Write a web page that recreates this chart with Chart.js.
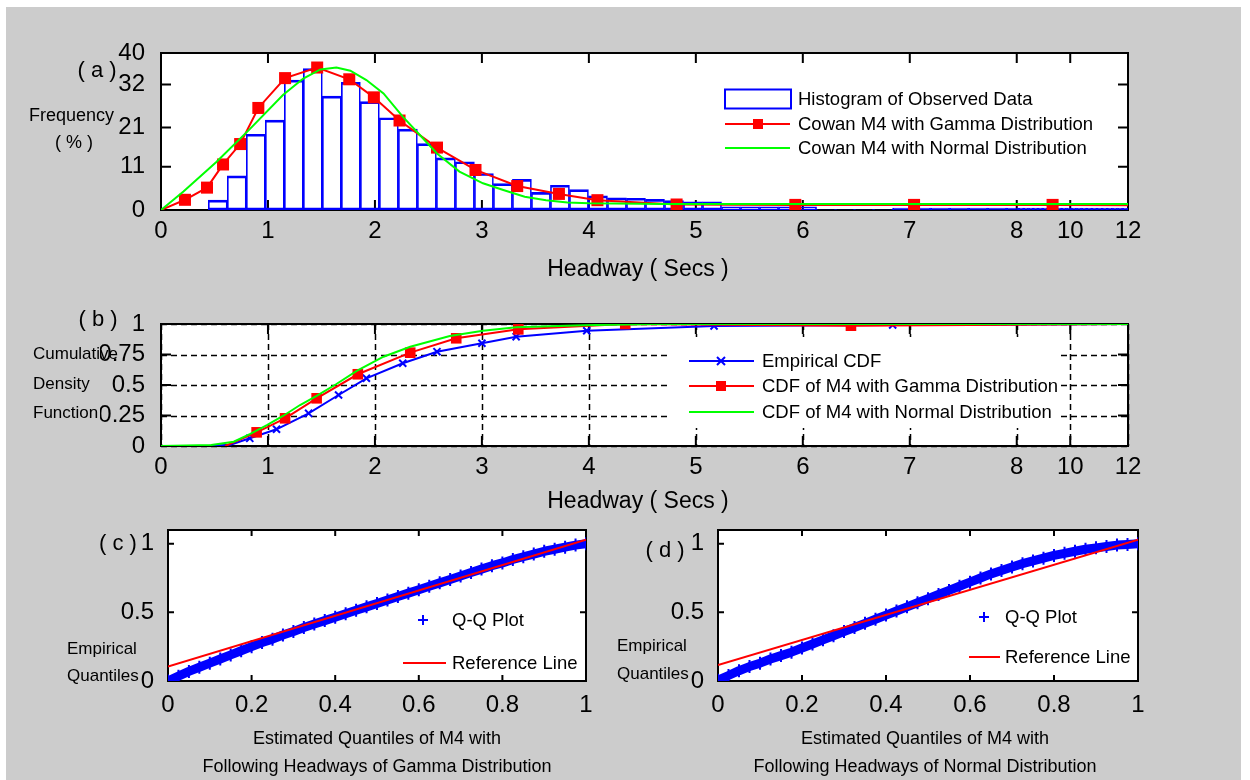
<!DOCTYPE html>
<html>
<head>
<meta charset="utf-8">
<script src="https://cdn.jsdelivr.net/npm/chart.js@4.4.1/dist/chart.umd.min.js"></script>
<style>
  html, body { margin: 0; padding: 0; background: #fff; }
  #page { position: relative; width: 1250px; height: 780px; overflow: hidden; background: #fff; }
  #bg { position: absolute; left: 6px; top: 7px; width: 1235px; height: 773px; background: #cccccc; }
  canvas { position: absolute; left: 0; top: 0; }
  .lbl { position: absolute; font-family: "Liberation Sans", Arial, sans-serif; color: #000; white-space: nowrap; line-height: 1; }
  .c { transform: translate(-50%, -50%); }
  .l { transform: translateY(-50%); }
</style>
</head>
<body>
<div id="page">
  <div id="bg"></div>
  <canvas id="chartA" width="1250" height="780"></canvas>
  <canvas id="chartB" width="1250" height="780"></canvas>
  <canvas id="chartC" width="1250" height="780"></canvas>
  <canvas id="chartD" width="1250" height="780"></canvas>

  <div class="lbl c" style="left:97px;top:70px;font-size:22px">( a )</div>
  <div class="lbl l" style="left:29px;top:115px;font-size:18px">Frequency</div>
  <div class="lbl c" style="left:74px;top:142px;font-size:18px">( % )</div>
  <div class="lbl c" style="left:638px;top:268px;font-size:23px">Headway ( Secs )</div>

  <div class="lbl c" style="left:98px;top:319px;font-size:22px">( b )</div>
  <div class="lbl l" style="left:33px;top:353px;font-size:17px">Cumulative</div>
  <div class="lbl l" style="left:33px;top:383px;font-size:17px">Density</div>
  <div class="lbl l" style="left:33px;top:412px;font-size:17px">Function</div>
  <div class="lbl c" style="left:638px;top:500px;font-size:23px">Headway ( Secs )</div>

  <div class="lbl c" style="left:118px;top:543px;font-size:22px">( c )</div>
  <div class="lbl l" style="left:67px;top:648px;font-size:17px">Empirical</div>
  <div class="lbl l" style="left:67px;top:675px;font-size:17px">Quantiles</div>
  <div class="lbl c" style="left:377px;top:738px;font-size:18px">Estimated Quantiles of M4 with</div>
  <div class="lbl c" style="left:377px;top:766px;font-size:18px">Following Headways of Gamma Distribution</div>

  <div class="lbl c" style="left:665px;top:550px;font-size:22px">( d )</div>
  <div class="lbl l" style="left:617px;top:645px;font-size:17px">Empirical</div>
  <div class="lbl l" style="left:617px;top:673px;font-size:17px">Quantiles</div>
  <div class="lbl c" style="left:925px;top:738px;font-size:18px">Estimated Quantiles of M4 with</div>
  <div class="lbl c" style="left:925px;top:766px;font-size:18px">Following Headways of Normal Distribution</div>
</div>

<script>
// ---- headway axis (a) and (b): 0..8 evenly spaced, then 10 and 12 squeezed in ----
const xTickVals = [0, 1, 2, 3, 4, 5, 6, 7, 8, 10, 12];

// ---- (a) histogram, bins of 0.178 s starting at 0.44 s ----
const binStart = 0.442;
const binWidth = 0.1777;
const histFreq = [
  2.5, 8.7, 19.3, 22.9, 33.1, 36.0, 29.0, 32.5, 27.6, 23.5,
  20.6, 16.9, 13.3, 12.3, 9.3, 6.7, 7.8, 4.5, 6.3, 5.2,
  3.6, 3.1, 3.0, 2.7, 2.4, 2.1, 2.1, 0.8, 0.8, 0.8,
  0.8, 0.8, 0.1, 0.1, 0.1, 0.1, 0.5, 0.5, 0.5, 0.5,
  0.5, 0.5, 0.5, 0.5, 0.5, 0.5, 0.5, 0.5, 0.5, 0.5,
  0.5, 0.5, 0.5, 0.5, 0.5, 0.5, 0.5, 0.5, 0.5, 0.5,
  0.5, 0.5, 0.5, 0.5, 0.5
];

// Cowan M4 with Gamma distribution (pdf, %)
const gammaX = [0, 0.224, 0.43, 0.58, 0.74, 0.91, 1.16, 1.46, 1.76, 1.99, 2.23, 2.58, 2.94, 3.33, 3.72, 4.08, 4.82, 5.93, 7.04, 9.34, 12];
const gammaY = [0, 2.6, 5.7, 11.6, 16.8, 26.0, 33.6, 36.3, 33.3, 28.7, 22.8, 15.9, 10.2, 6.1, 4.1, 2.5, 1.4, 1.3, 1.3, 1.3, 1.2];

// Cowan M4 with Normal distribution (pdf, %)
const normX = [0, 0.21, 0.52, 0.83, 1.14, 1.33, 1.49, 1.64, 1.77, 1.92, 2.08, 2.26, 2.42, 2.58, 2.79, 3.01, 3.2, 3.4, 3.6, 3.8, 4.0, 4.7, 12];
const normY = [0, 4.7, 12.3, 20.6, 29.3, 33.5, 35.8, 36.3, 35.5, 33.1, 29.7, 23.8, 19.1, 14.4, 9.8, 6.8, 5.1, 3.4, 2.5, 1.9, 1.7, 1.5, 1.5];

// ---- (b) CDFs ----
const empCdfX = [0.44, 0.65, 0.83, 1.08, 1.38, 1.66, 1.92, 2.26, 2.58, 3.0, 3.32, 3.98, 5.17, 6.84, 12];
const empCdfY = [0, 0.01, 0.063, 0.137, 0.268, 0.418, 0.555, 0.678, 0.773, 0.842, 0.896, 0.945, 0.984, 0.992, 1.0];
const gamCdfX = [0.6, 0.894, 1.16, 1.455, 1.84, 2.33, 2.76, 3.34, 4.34, 6.45, 12];
const gamCdfY = [0, 0.112, 0.227, 0.391, 0.588, 0.765, 0.883, 0.956, 1.0, 0.986, 1.0];
const norCdfX = [0, 0.47, 0.68, 0.83, 0.99, 1.14, 1.30, 1.455, 1.64, 1.83, 2.08, 2.33, 2.70, 3.01, 3.32, 3.95, 4.6, 12];
const norCdfY = [0, 0.008, 0.035, 0.098, 0.172, 0.246, 0.336, 0.41, 0.508, 0.615, 0.732, 0.814, 0.902, 0.945, 0.973, 0.99, 1.0, 1.0];

// ---- (c) and (d) Q-Q plots ----
const qqX = [0, 0.025, 0.05, 0.075, 0.1, 0.125, 0.15, 0.175, 0.2, 0.225, 0.25, 0.275, 0.3, 0.325, 0.35, 0.375, 0.4, 0.425, 0.45, 0.475,
  0.5, 0.525, 0.55, 0.575, 0.6, 0.625, 0.65, 0.675, 0.7, 0.725, 0.75, 0.775, 0.8, 0.825, 0.85, 0.875, 0.9, 0.925, 0.95, 0.975, 1.0];
const qqGammaY = [0, 0.035, 0.07, 0.1, 0.13, 0.16, 0.19, 0.22, 0.25, 0.28, 0.305, 0.335, 0.36, 0.39, 0.415, 0.44, 0.465, 0.49, 0.515, 0.54,
  0.565, 0.59, 0.615, 0.64, 0.665, 0.69, 0.715, 0.74, 0.765, 0.79, 0.815, 0.84, 0.86, 0.885, 0.905, 0.925, 0.945, 0.96, 0.975, 0.99, 1.0];
const qqNormalY = [0.005, 0.04, 0.075, 0.105, 0.13, 0.16, 0.185, 0.21, 0.24, 0.27, 0.3, 0.33, 0.36, 0.39, 0.42, 0.45, 0.48, 0.51, 0.54, 0.57,
  0.6, 0.63, 0.66, 0.69, 0.72, 0.75, 0.78, 0.805, 0.83, 0.855, 0.875, 0.895, 0.915, 0.93, 0.945, 0.96, 0.97, 0.98, 0.99, 0.995, 1.0];
const refX = [0, 1];
const refGammaY = [0.105, 1.03];
const refNormalY = [0.117, 1.03];

const FONT = 'Liberation Sans';
const BLUE = '#0000ff', RED = '#ff0000', GREEN = '#00ff00';

function xPos(h) {
  if (h <= 8) return h;
  if (h <= 10) return 8 + (h - 8) * 0.25;
  return 8.5 + (h - 10) * 0.27;
}
function pts(xs, ys, fx) {
  return xs.map((v, i) => ({ x: fx ? fx(v) : v, y: ys[i] }));
}

// small marker painter for the hand-placed legends
function mark(ctx, style, x, y, r, color) {
  ctx.save();
  ctx.strokeStyle = color; ctx.fillStyle = color; ctx.lineWidth = 2;
  ctx.beginPath();
  if (style === 'rect') {
    ctx.fillRect(x - r, y - r, 2 * r, 2 * r);
  } else if (style === 'cross') {
    ctx.moveTo(x - r, y); ctx.lineTo(x + r, y); ctx.moveTo(x, y - r); ctx.lineTo(x, y + r); ctx.stroke();
  } else if (style === 'crossRot') {
    ctx.moveTo(x - r, y - r); ctx.lineTo(x + r, y + r); ctx.moveTo(x - r, y + r); ctx.lineTo(x + r, y - r); ctx.stroke();
  }
  ctx.restore();
}

// white axes area, box, inward ticks, optional dashed grid (matlab look)
const boxPlugin = {
  id: 'matBox',
  beforeDraw(chart) {
    const { ctx, chartArea: a } = chart;
    ctx.save();
    ctx.fillStyle = '#fff';
    ctx.fillRect(a.left, a.top, a.width, a.height);
    ctx.restore();
  },
  beforeDatasetsDraw(chart, args, o) {
    const { ctx, chartArea: a, scales: { x, y } } = chart;
    const len = o.tick || 8;
    ctx.save();
    if (o.grid) {
      ctx.strokeStyle = '#000'; ctx.lineWidth = 1.5; ctx.setLineDash([6, 4]);
      ctx.beginPath();
      x.ticks.forEach(t => { const p = Math.round(x.getPixelForValue(t.value)) + 0.5; ctx.moveTo(p, a.top); ctx.lineTo(p, a.bottom); });
      y.ticks.forEach(t => { const p = Math.round(y.getPixelForValue(t.value)) + 0.5; ctx.moveTo(a.left, p); ctx.lineTo(a.right, p); });
      ctx.stroke();
      ctx.setLineDash([]);
    }
    ctx.strokeStyle = '#000'; ctx.lineWidth = 2;
    ctx.beginPath();
    x.ticks.forEach(t => {
      const p = x.getPixelForValue(t.value);
      ctx.moveTo(p, a.bottom); ctx.lineTo(p, a.bottom - len);
      ctx.moveTo(p, a.top); ctx.lineTo(p, a.top + len);
    });
    y.ticks.forEach(t => {
      const p = y.getPixelForValue(t.value);
      ctx.moveTo(a.left, p); ctx.lineTo(a.left + len, p);
      ctx.moveTo(a.right, p); ctx.lineTo(a.right - len, p);
    });
    ctx.stroke();
    ctx.strokeRect(a.left, a.top, a.width, a.height);
    ctx.restore();
  }
};

const legendPlugin = {
  id: 'boxLegend',
  afterDatasetsDraw(chart, args, o) {
    if (!o.items) return;
    const ctx = chart.ctx;
    ctx.save();
    if (o.bg) {
      ctx.fillStyle = '#fff';
      ctx.fillRect(o.bg[0], o.bg[1], o.bg[2] - o.bg[0], o.bg[3] - o.bg[1]);
    }
    o.items.forEach(it => {
      if (it.box) {
        ctx.strokeStyle = it.color; ctx.lineWidth = 2;
        ctx.strokeRect(it.x0, it.y - 9.5, it.x1 - it.x0, 19);
      }
      if (it.line) {
        ctx.strokeStyle = it.color; ctx.lineWidth = 2;
        ctx.beginPath(); ctx.moveTo(it.x0, it.y); ctx.lineTo(it.x1, it.y); ctx.stroke();
      }
      if (it.marker) mark(ctx, it.marker, it.mx, it.y, it.mr || 5, it.color);
      ctx.fillStyle = '#000';
      ctx.font = (o.size || 18) + 'px "' + FONT + '"';
      ctx.textBaseline = 'middle';
      ctx.fillText(it.text, it.tx, it.y + 1);
    });
    ctx.restore();
  }
};

Chart.register(boxPlugin, legendPlugin);
Chart.defaults.animation = false;
Chart.defaults.font.family = FONT;
Chart.defaults.color = '#000';

function tickFont(size) { return { family: FONT, size: size }; }

function headwayX() {
  return {
    type: 'linear', min: 0, max: xPos(12), offset: false,
    grid: { display: false }, border: { display: false },
    afterBuildTicks: s => { s.ticks = xTickVals.map(v => ({ value: xPos(v) })); },
    afterFit: s => { s.height = 40; },
    ticks: { font: tickFont(24), padding: -1, maxRotation: 0, autoSkip: false, callback: (v, i) => String(xTickVals[i]) }
  };
}
function valueY(min, max, vals, labels, width, pad) {
  return {
    type: 'linear', min: min, max: max,
    grid: { display: false }, border: { display: false },
    afterBuildTicks: s => { s.ticks = vals.map(v => ({ value: v })); },
    afterFit: s => { s.width = width; },
    ticks: { font: tickFont(24), padding: pad, autoSkip: false, callback: (v, i) => labels[i] }
  };
}
const baseOpts = {
  responsive: false,
  events: [],
  plugins: { legend: { display: false }, tooltip: { enabled: false } }
};

// ---------- (a) ----------
const histPts = histFreq.map((f, i) => ({ x: xPos(binStart + (i + 0.5) * binWidth), y: f }));
new Chart(document.getElementById('chartA'), {
  type: 'bar',
  data: {
    datasets: [
      {
        type: 'bar', data: histPts, order: 3,
        backgroundColor: 'rgba(255,255,255,0)', borderColor: BLUE,
        borderWidth: { top: 2, bottom: 2, left: 1, right: 1 }, borderSkipped: false,
        barThickness: 'flex', barPercentage: 1, categoryPercentage: 1
      },
      {
        type: 'line', data: pts(gammaX, gammaY, xPos), order: 2,
        borderColor: RED, borderWidth: 2, backgroundColor: RED,
        pointStyle: 'rect', pointRadius: gammaX.map((v, i) => (i === 0 || i === gammaX.length - 1) ? 0 : 8.5),
        pointBorderWidth: 0
      },
      {
        type: 'line', data: pts(normX, normY, xPos), order: 1,
        borderColor: GREEN, borderWidth: 2, pointRadius: 0
      }
    ]
  },
  options: Object.assign({}, baseOpts, {
    layout: { padding: { left: 100, top: 53, right: 122, bottom: 530 } },
    scales: {
      x: headwayX(),
      y: valueY(0, 40, [0, 11, 21, 32, 40], ['0', '11', '21', '32', '40'], 61, 8)
    },
    plugins: Object.assign({}, baseOpts.plugins, {
      matBox: { tick: 10 },
      boxLegend: {
        bg: [716, 80, 1095, 162], size: 18.5,
        items: [
          { box: true, color: BLUE, x0: 725, x1: 791, y: 99, text: 'Histogram of Observed Data', tx: 798 },
          { line: true, color: RED, x0: 725, x1: 790, y: 124, marker: 'rect', mx: 758, mr: 5, text: 'Cowan M4 with Gamma Distribution', tx: 798 },
          { line: true, color: GREEN, x0: 725, x1: 790, y: 148, text: 'Cowan M4 with Normal Distribution', tx: 798 }
        ]
      }
    })
  })
});

// ---------- (b) ----------
new Chart(document.getElementById('chartB'), {
  type: 'line',
  data: {
    datasets: [
      {
        data: pts(empCdfX, empCdfY, xPos), order: 3,
        borderColor: BLUE, borderWidth: 2, backgroundColor: BLUE,
        pointStyle: 'crossRot', pointBorderColor: BLUE, pointBorderWidth: 2,
        pointRadius: empCdfX.map((v, i) => (i < 2 || i === empCdfX.length - 1) ? 0 : 5)
      },
      {
        data: pts(gamCdfX, gamCdfY, xPos), order: 2,
        borderColor: RED, borderWidth: 2, backgroundColor: RED,
        pointStyle: 'rect', pointBorderWidth: 0,
        pointRadius: gamCdfX.map((v, i) => (i === 0 || i === gamCdfX.length - 1) ? 0 : 7.5)
      },
      {
        data: pts(norCdfX, norCdfY, xPos), order: 1,
        borderColor: GREEN, borderWidth: 2, pointRadius: 0
      }
    ]
  },
  options: Object.assign({}, baseOpts, {
    layout: { padding: { left: 100, top: 324, right: 122, bottom: 294 } },
    scales: {
      x: headwayX(),
      y: valueY(0, 1, [0, 0.25, 0.5, 0.75, 1], ['0', '0.25', '0.5', '0.75', '1'], 61, 8)
    },
    plugins: Object.assign({}, baseOpts.plugins, {
      matBox: { tick: 10, grid: true },
      boxLegend: {
        bg: [670, 337, 1060, 428], size: 18.5,
        items: [
          { line: true, color: BLUE, x0: 689, x1: 754, y: 361, marker: 'crossRot', mx: 721, mr: 4, text: 'Empirical CDF', tx: 762 },
          { line: true, color: RED, x0: 689, x1: 754, y: 386, marker: 'rect', mx: 721, mr: 5, text: 'CDF of M4 with Gamma Distribution', tx: 762 },
          { line: true, color: GREEN, x0: 689, x1: 754, y: 412, text: 'CDF of M4 with Normal Distribution', tx: 762 }
        ]
      }
    })
  })
});

// ---------- (c) and (d) ----------
function qqChart(id, qy, ry, padLeft, padRight, legend) {
  return new Chart(document.getElementById(id), {
    type: 'line',
    data: {
      datasets: [
        {
          data: pts(qqX, qy), order: 2,
          borderColor: BLUE, borderWidth: 9, borderJoinStyle: 'round', borderCapStyle: 'round',
          pointStyle: 'cross', pointRadius: 6.5, pointBorderWidth: 2, pointBorderColor: BLUE
        },
        {
          data: pts(refX, ry), order: 1,
          borderColor: RED, borderWidth: 2, pointRadius: 0
        }
      ]
    },
    options: Object.assign({}, baseOpts, {
      layout: { padding: { left: padLeft, top: 530, right: padRight, bottom: 59 } },
      scales: {
        x: {
          type: 'linear', min: 0, max: 1,
          grid: { display: false }, border: { display: false },
          afterBuildTicks: s => { s.ticks = [0, 0.2, 0.4, 0.6, 0.8, 1].map(v => ({ value: v })); },
          afterFit: s => { s.height = 40; },
          ticks: { font: tickFont(24), padding: 2, maxRotation: 0, autoSkip: false, callback: v => String(+v.toFixed(1)) }
        },
        y: valueY(0, 1.1, [0, 0.5, 1], ['0', '0.5', '1'], 68, 6)
      },
      plugins: Object.assign({}, baseOpts.plugins, {
        matBox: { tick: 6 },
        boxLegend: legend
      })
    })
  });
}

qqChart('chartC', qqGammaY, refGammaY, 100, 664, {
  size: 18.5,
  items: [
    { marker: 'cross', color: BLUE, mx: 423, mr: 5, y: 620, text: 'Q-Q Plot', tx: 452 },
    { line: true, color: RED, x0: 403, x1: 446, y: 663, text: 'Reference Line', tx: 452 }
  ]
});
qqChart('chartD', qqNormalY, refNormalY, 650, 112, {
  size: 18.5,
  items: [
    { marker: 'cross', color: BLUE, mx: 984, mr: 5, y: 617, text: 'Q-Q Plot', tx: 1005 },
    { line: true, color: RED, x0: 969, x1: 1000, y: 657, text: 'Reference Line', tx: 1005 }
  ]
});
</script>
</body>
</html>
